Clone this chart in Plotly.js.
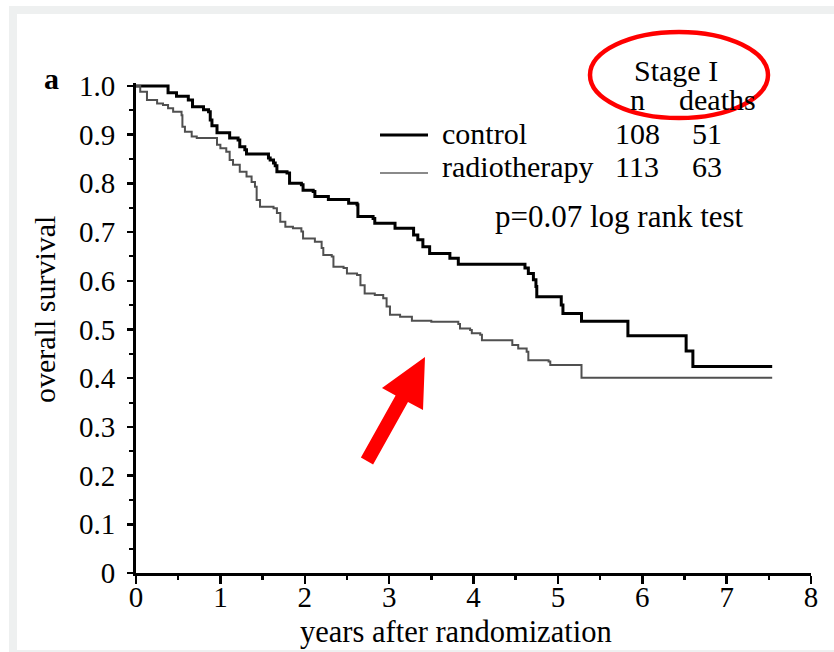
<!DOCTYPE html>
<html>
<head>
<meta charset="utf-8">
<script src="https://cdn.plot.ly/plotly-3.0.1.min.js"></script>
<style>html,body{margin:0;padding:0;background:#fff;}#chart{width:834px;height:652px;}</style>
</head>
<body>
<div id="chart"></div>
<script>
// ---- data ----
const controlYears = [0,0.38,0.48,0.62,0.67,0.80,0.86,0.88,0.90,0.96,1.11,1.21,1.23,1.29,1.31,1.57,1.59,1.63,1.65,1.67,1.79,1.82,1.96,1.98,2.10,2.12,2.28,2.52,2.62,2.63,2.81,2.83,3.07,3.29,3.34,3.40,3.48,3.72,3.82,4.61,4.65,4.71,4.74,4.75,5.04,5.06,5.28,5.83,6.52,6.60,7.54];
const controlSurv  = [1.0,0.986,0.979,0.971,0.957,0.951,0.947,0.930,0.918,0.904,0.893,0.889,0.875,0.869,0.860,0.852,0.848,0.842,0.836,0.824,0.821,0.800,0.797,0.786,0.783,0.773,0.767,0.759,0.756,0.732,0.728,0.718,0.708,0.694,0.684,0.670,0.656,0.646,0.634,0.626,0.615,0.602,0.588,0.567,0.550,0.533,0.517,0.487,0.456,0.424,0.424];

const radioYears = [0,0.05,0.13,0.25,0.32,0.38,0.44,0.54,0.55,0.58,0.66,0.72,0.96,1.00,1.07,1.11,1.15,1.23,1.31,1.37,1.41,1.43,1.47,1.63,1.67,1.71,1.77,1.86,1.96,1.98,2.12,2.20,2.22,2.32,2.34,2.46,2.50,2.62,2.66,2.71,2.83,2.93,2.97,3.01,3.13,3.27,3.50,3.82,3.84,3.96,3.98,4.08,4.10,4.46,4.53,4.63,4.65,4.89,4.91,5.28,7.54];
const radioSurv  = [1.0,0.988,0.971,0.964,0.961,0.954,0.947,0.940,0.916,0.906,0.896,0.893,0.879,0.872,0.865,0.848,0.838,0.824,0.814,0.803,0.793,0.766,0.752,0.749,0.739,0.721,0.711,0.708,0.701,0.687,0.680,0.667,0.653,0.650,0.629,0.626,0.615,0.612,0.591,0.574,0.571,0.564,0.547,0.530,0.526,0.518,0.516,0.511,0.502,0.499,0.492,0.489,0.478,0.468,0.461,0.454,0.437,0.434,0.427,0.401,0.401];

const seriesNames = ["control", "radiotherapy"];
const nPatients = ["108", "113"];
const nDeaths = ["51", "63"];
const yTickVals = [0,0.1,0.2,0.3,0.4,0.5,0.6,0.7,0.8,0.9,1.0];
const yTickText = ["0","0.1","0.2","0.3","0.4","0.5","0.6","0.7","0.8","0.9","1.0"];
const xTickVals = [0,1,2,3,4,5,6,7,8];
const xTitle = "years after randomization";
const yTitle = "overall survival";

// ---- layout geometry ----
const W = 834, H = 652;
const L = 136, R = 811, T = 83, B = 573;
const px = v => (v - L) / (R - L);
const py = v => (B - v) / (B - T);
const serif = "Liberation Serif, Times New Roman, serif";

const traces = [
  {x: controlYears, y: controlSurv, mode: "lines", line: {shape: "hv", color: "#000", width: 3}, name: seriesNames[0]},
  {x: radioYears, y: radioSurv, mode: "lines", line: {shape: "hv", color: "#505050", width: 2}, name: seriesNames[1]}
];

function txt(text, x, y, xa, size, extra) {
  return Object.assign({text: text, x: px(x), y: py(y), xref: "paper", yref: "paper",
    xanchor: xa, yanchor: "middle", showarrow: false,
    font: {family: serif, size: size || 30, color: "#000"}}, extra || {});
}

const annotations = [
  txt("<b>a</b>", 51, 79, "center", 30),
  txt("Stage I", 676, 71, "center"),
  txt("n", 637, 100, "center"),
  txt("deaths", 717, 100, "center"),
  txt(seriesNames[0], 440, 133, "left"),
  txt(nPatients[0], 637, 133, "center"),
  txt(nDeaths[0], 707, 133, "center"),
  txt(seriesNames[1], 440, 166, "left"),
  txt(nPatients[1], 637, 166, "center"),
  txt(nDeaths[1], 707, 166, "center"),
  txt("p=0.07 log rank test", 493, 216, "left", 31),
  txt(xTitle, 456, 632, "center", 30.5),
  txt(yTitle, 44, 310, "center", 30, {textangle: -90})
];

// arrow polygon (pixel coords)
const arrowPts = [[360.9,457.6],[395.6,395.4],[382,388],[425,357],[423,410],[408,401.9],[373.1,464.4]];
const arrowPath = "M" + arrowPts.map(p => px(p[0]).toFixed(5) + "," + py(p[1]).toFixed(5)).join(" L") + " Z";

const shapes = [
  {type: "rect", xref: "paper", yref: "paper", x0: px(9), x1: px(834), y0: py(652), y1: py(6), fillcolor: "#eef0f0", line: {width: 0}, layer: "below"},
  {type: "rect", xref: "paper", yref: "paper", x0: px(17), x1: px(834), y0: py(650), y1: py(14), fillcolor: "#ffffff", line: {width: 0}, layer: "below"},
  {type: "line", xref: "paper", yref: "paper", x0: px(380), x1: px(428), y0: py(135), y1: py(135), line: {color: "#000", width: 3}},
  {type: "line", xref: "paper", yref: "paper", x0: px(380), x1: px(428), y0: py(173), y1: py(173), line: {color: "#8a8a8a", width: 2}},
  {type: "circle", xref: "paper", yref: "paper", x0: px(590), x1: px(768), y0: py(118), y1: py(32), line: {color: "#ff0000", width: 4.5}},
  {type: "path", xref: "paper", yref: "paper", path: arrowPath, fillcolor: "#ff0000", line: {width: 0}}
];

const layout = {
  width: W, height: H,
  margin: {l: L, r: W - R, t: T, b: H - B, pad: 0},
  paper_bgcolor: "#ffffff", plot_bgcolor: "rgba(0,0,0,0)",
  showlegend: false,
  font: {family: serif, color: "#000"},
  xaxis: {
    range: [0, 8], tickvals: xTickVals, ticktext: xTickVals.map(String),
    showgrid: false, zeroline: false, showline: true, linecolor: "#000", linewidth: 3,
    ticks: "outside", ticklen: 8, tickwidth: 2.5, tickcolor: "#000",
    ticklabelstandoff: -12,
    tickfont: {family: serif, size: 29, color: "#000"},
    minor: {dtick: 0.5, tick0: 0, ticks: "outside", ticklen: 4, tickwidth: 2.5, tickcolor: "#000", showgrid: false}
  },
  yaxis: {
    range: [0, 1.006], tickvals: yTickVals, ticktext: yTickText,
    showgrid: false, zeroline: false, showline: true, linecolor: "#000", linewidth: 3,
    ticks: "outside", ticklen: 6, tickwidth: 2.5, tickcolor: "#000",
    ticklabelstandoff: 6,
    tickfont: {family: serif, size: 29, color: "#000"},
    minor: {dtick: 0.05, tick0: 0, ticks: "outside", ticklen: 4, tickwidth: 2, tickcolor: "#000", showgrid: false}
  },
  annotations: annotations,
  shapes: shapes
};

Plotly.newPlot("chart", traces, layout, {staticPlot: true, displayModeBar: false});
</script>
</body>
</html>
